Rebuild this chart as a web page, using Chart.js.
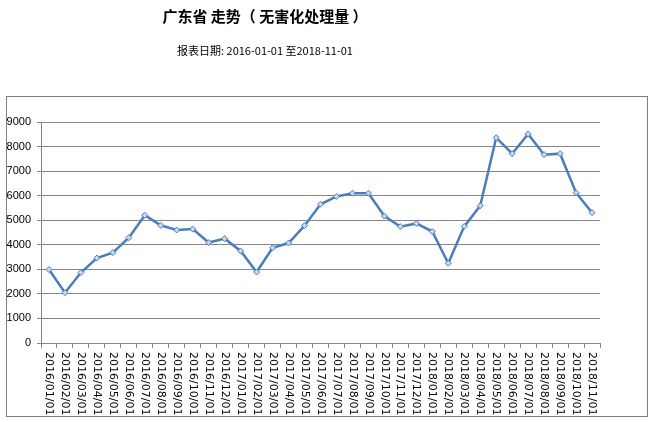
<!DOCTYPE html>
<html>
<head>
    <title>广东省 走势</title>
    <meta charset="utf-8" />
    <script src="https://cdn.jsdelivr.net/npm/chart.js@4.4.1/dist/chart.umd.min.js"></script>
    <style>
        html, body { margin: 0; padding: 0; background: #fff; }
        .chart-container { width: 652px; height: 422px; }
    </style>
</head>
<body>
    <div class="chart-container"><canvas id="chart"></canvas></div>

    <script>
        const chartTitle = '广东省 走势（ 无害化处理量 ）';
        const chartSubtitle = '报表日期: 2016-01-01 至2018-11-01';

        const months = [
            '2016/01/01', '2016/02/01', '2016/03/01', '2016/04/01', '2016/05/01', '2016/06/01',
            '2016/07/01', '2016/08/01', '2016/09/01', '2016/10/01', '2016/11/01', '2016/12/01',
            '2017/01/01', '2017/02/01', '2017/03/01', '2017/04/01', '2017/05/01', '2017/06/01',
            '2017/07/01', '2017/08/01', '2017/09/01', '2017/10/01', '2017/11/01', '2017/12/01',
            '2018/01/01', '2018/02/01', '2018/03/01', '2018/04/01', '2018/05/01', '2018/06/01',
            '2018/07/01', '2018/08/01', '2018/09/01', '2018/10/01', '2018/11/01'
        ];

        const treated = [
            2990, 2050, 2870, 3460, 3680, 4290, 5200, 4790, 4600, 4640, 4090, 4250,
            3750, 2890, 3880, 4070, 4780, 5650, 5970, 6100, 6100, 5170, 4740, 4870,
            4540, 3250, 4750, 5590, 8360, 7710, 8510, 7670, 7710, 6120, 5310
        ];

        const yTicks = [0, 1000, 2000, 3000, 4000, 5000, 6000, 7000, 8000, 9000];

        // frame, titles and the top-to-bottom x labels
        const decor = {
            id: 'decor',
            beforeDraw(chart) {
                const ctx = chart.ctx;
                ctx.save();
                ctx.fillStyle = '#fff';
                ctx.fillRect(0, 0, chart.width, chart.height);
                ctx.strokeStyle = '#808080';
                ctx.lineWidth = 1;
                ctx.strokeRect(6.5, 96.5, 641, 320);
                ctx.restore();
            },
            afterDraw(chart) {
                const ctx = chart.ctx;
                const xs = chart.scales.x;
                ctx.save();
                ctx.fillStyle = '#000';
                ctx.textAlign = 'center';
                ctx.textBaseline = 'middle';
                ctx.font = 'bold 15px "Noto Sans CJK SC"';
                ctx.fillText(chartTitle, 265, 16);
                ctx.font = '11px "Liberation Sans Narrow", "Noto Sans CJK SC"';
                ctx.fillText(chartSubtitle, 265, 51);

                ctx.font = '11px "DejaVu Sans"';
                ctx.textAlign = 'left';
                months.forEach((m, i) => {
                    const x = xs.getPixelForValue(i);
                    ctx.save();
                    ctx.translate(x, xs.bottom + 4);
                    ctx.rotate(Math.PI / 2);
                    ctx.fillText(m, 0, 0);
                    ctx.restore();
                });
                ctx.restore();
            }
        };

        new Chart(document.getElementById('chart'), {
            type: 'line',
            data: {
                labels: months,
                datasets: [{
                    label: '无害化处理量',
                    data: treated,
                    borderColor: '#4a7ebb',
                    borderWidth: 2.5,
                    backgroundColor: '#b9cde5',
                    pointStyle: 'rectRot',
                    pointRadius: 3,
                    pointBorderWidth: 1,
                    pointBorderColor: '#4a7ebb',
                    pointBackgroundColor: '#c6d9f1',
                    tension: 0
                }]
            },
            options: {
                responsive: true,
                maintainAspectRatio: false,
                animation: false,
                layout: {
                    padding: { left: 6, right: 52, top: 122, bottom: 74 }
                },
                plugins: {
                    legend: { display: false },
                    tooltip: { enabled: false }
                },
                scales: {
                    x: {
                        offset: true,
                        grid: {
                            display: true,
                            offset: true,
                            drawOnChartArea: false,
                            drawTicks: true,
                            tickLength: 5,
                            color: '#878787'
                        },
                        border: { color: '#878787' },
                        ticks: { display: false }
                    },
                    y: {
                        min: 0,
                        max: 9000,
                        afterFit(scale) { scale.width = 35; },
                        afterBuildTicks(scale) {
                            scale.ticks = yTicks.map(v => ({ value: v }));
                        },
                        grid: {
                            color: '#878787',
                            tickLength: 4
                        },
                        border: { color: '#878787' },
                        ticks: {
                            padding: 6,
                            color: '#000',
                            font: { family: '"Liberation Sans"', size: 11 },
                            callback: v => String(v)
                        }
                    }
                }
            },
            plugins: [decor]
        });
    </script>
</body>
</html>
